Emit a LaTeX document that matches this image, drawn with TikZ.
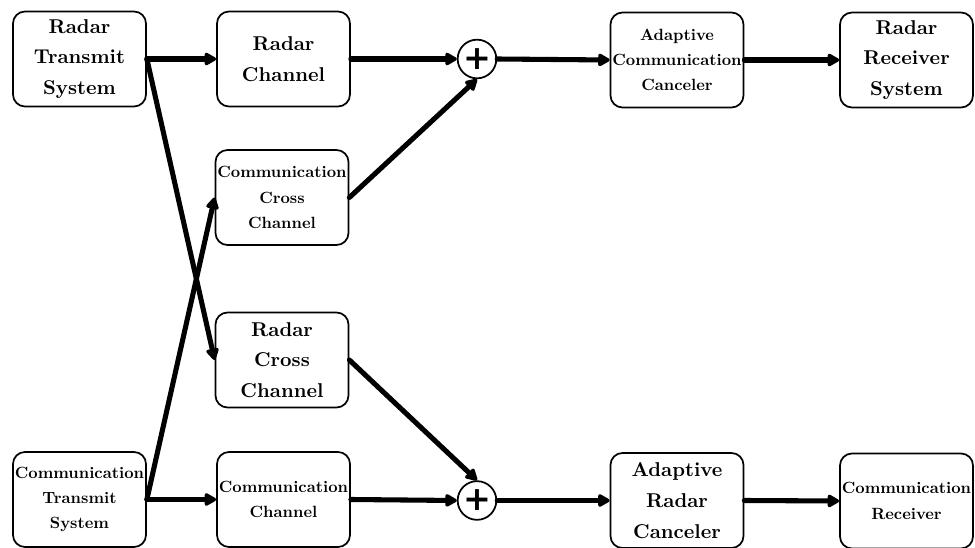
\documentclass[tikz,border=0pt]{standalone}
\usepackage{fontspec}
\setmainfont{lmroman10-regular.otf}[BoldFont=lmroman10-bold.otf]
\newfontfamily\plusfont{DejaVu Sans}
\usetikzlibrary{arrows.meta}
\begin{document}
\begin{tikzpicture}[x=0.75pt,y=-0.75pt,
  blk/.style={draw, line width=1.3pt, rounded corners=9pt, minimum width=99.75pt, minimum height=71.25pt, inner sep=0pt, align=center},
  big/.style={blk, font=\fontsize{15}{23}\selectfont\bfseries},
  sml/.style={blk, font=\fontsize{12.2}{19}\selectfont\bfseries},
  sumc/.style={draw, circle, line width=1.3pt, minimum size=29pt, inner sep=0pt, font=\fontsize{25}{25}\selectfont\plusfont\bfseries},
  arr/.style={line width=3.8pt, line cap=round, -{Triangle[length=10pt,width=10.5pt,round]}}
]
\useasboundingbox (0,0) rectangle (975,548);
% top row
\node[big] (rts) at (79.5,59) {Radar\\Transmit\\System};
\node[big] (rch) at (283.5,59) {Radar\\Channel};
\node[sumc] (s1) at (477,59) {+};
\node[sml] (acc) at (677,60) {Adaptive\\Communication\\Canceler};
\node[big] (rrs) at (906.5,60) {Radar\\Receiver\\System};
% cross channels
\node[sml] (ccc) at (282,197.5) {Communication\\Cross\\Channel};
\node[big] (rcc) at (282,360) {Radar\\Cross\\Channel};
% bottom row
\node[sml] (cts) at (79.5,499.5) {Communication\\Transmit\\System};
\node[sml] (cch) at (283.5,499.5) {Communication\\Channel};
\node[sumc] (s2) at (477,500.5) {+};
\node[big] (arc) at (677,500.5) {Adaptive\\Radar\\Canceler};
\node[sml] (crx) at (906.5,501) {Communication\\Receiver};
% connectors
\draw[arr] (rts.east) -- (rch.west);
\draw[arr] (rts.east) -- (rcc.west);
\draw[arr] (rch.east) -- (s1.west);
\draw[arr] (ccc.east) -- (s1.south);
\draw[arr] (s1.east) -- (acc.west);
\draw[arr] (acc.east) -- (rrs.west);
\draw[arr] (cts.east) -- (cch.west);
\draw[arr] (cts.east) -- (ccc.west);
\draw[arr] (cch.east) -- (s2.west);
\draw[arr] (rcc.east) -- (s2.north);
\draw[arr] (s2.east) -- (arc.west);
\draw[arr] (arc.east) -- (crx.west);
\end{tikzpicture}
\end{document}
